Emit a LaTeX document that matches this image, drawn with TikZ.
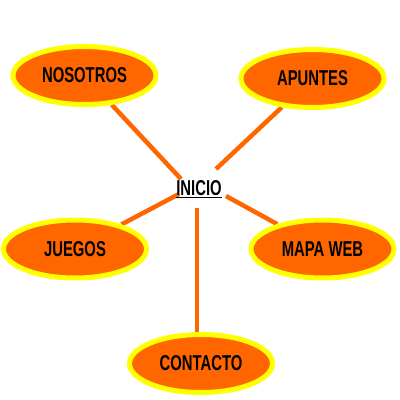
\documentclass[tikz,border=0pt]{standalone}
\usepackage{fontspec}
\setmainfont{Liberation Sans}
\usetikzlibrary{shapes.geometric,backgrounds}
\definecolor{naranja}{HTML}{FF6600}
\definecolor{amarillo}{HTML}{FFFF00}
\tikzset{
  bubble/.style={ellipse, draw=amarillo, fill=naranja, line width=5pt,
    minimum width=143pt, minimum height=58pt, inner sep=0pt,
    font=\fontsize{21.5}{22}\selectfont\bfseries, text=black},
  link/.style={draw=naranja, line width=4.5pt},
}
\newcommand{\narrowtxt}[1]{\scalebox{0.69}[1]{#1}}
\begin{document}
\begin{tikzpicture}[x=1pt,y=-1pt]
\useasboundingbox (0,0) rectangle (400,400);
\coordinate (cN) at (181,179);
\coordinate (cA) at (216,169);
\coordinate (cJ) at (179,194);
\coordinate (cM) at (226,196);
\coordinate (cC) at (197,208);
\node[bubble] (nos) at (84.5,75.5) {\narrowtxt{NOSOTROS}};
\node[bubble] (apu) at (312.5,78.5) {\narrowtxt{APUNTES}};
\node[bubble] (jue) at (75,249) {\narrowtxt{JUEGOS}};
\node[bubble] (map) at (322.5,249) {\narrowtxt{MAPA WEB}};
\node[bubble] (con) at (201,363.5) {\narrowtxt{CONTACTO}};
\node[font=\fontsize{21.5}{22}\selectfont\bfseries, inner sep=0pt] (ini) at (199,189) {\narrowtxt{\underline{INICIO}}};
\begin{scope}[on background layer]
\path[link] (nos) -- (cN);
\path[link] (apu) -- (cA);
\path[link] (jue) -- (cJ);
\path[link] (map) -- (cM);
\path[link] (cC) -- (cC |- con.north);
\end{scope}
\end{tikzpicture}
\end{document}
